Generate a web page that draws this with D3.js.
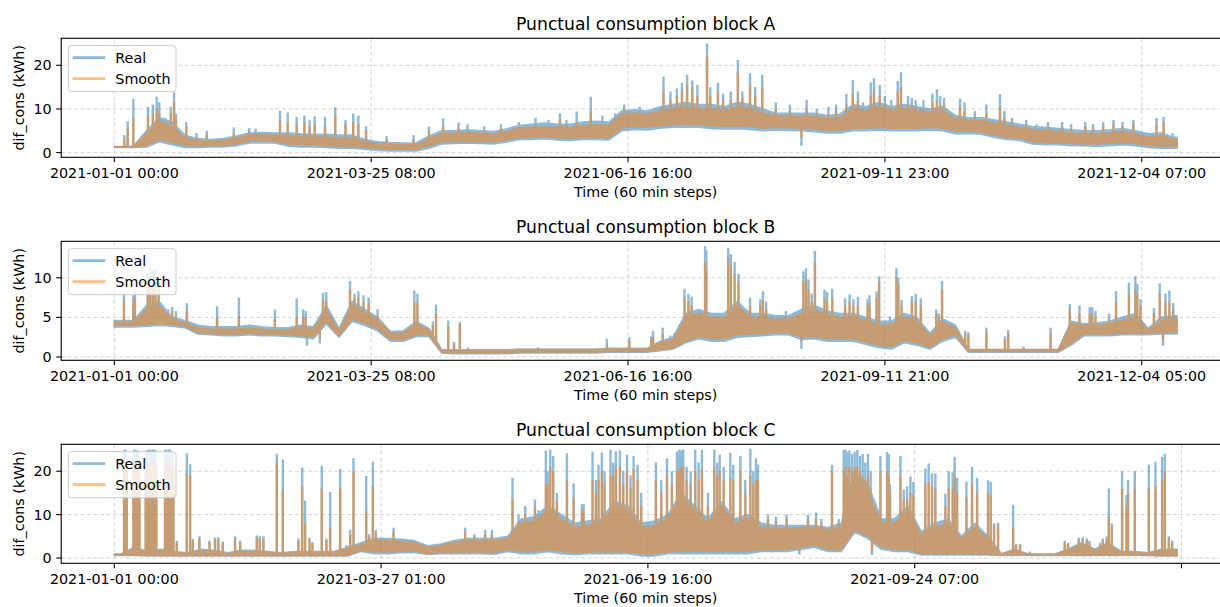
<!DOCTYPE html>
<html>
<head>
<meta charset="utf-8">
<script src="https://cdn.jsdelivr.net/npm/d3@7"></script>
<style>
  body { margin: 0; background: #fff; }
  text { font-family: "DejaVu Sans", sans-serif; fill: #000; }
</style>
</head>
<body>
<svg id="chart" width="1220" height="607"></svg>
<script>
// hourly series, summarised per 100 hour bucket (typical band) + the peaks
const bucketHours = 100;

// ---------------- block A ----------------
const aLastHour = 8275;
const aTickLabels = ["2021-01-01 00:00", "2021-03-25 08:00", "2021-06-16 16:00", "2021-09-11 23:00", "2021-12-04 07:00"];
const aYTicks = [0, 10, 20];
const aRealLo = [1.2,1.2,1.3,2.5,1.8,1.2,1.2,1.3,1.3,1.6, 2.2,2.3,2.2,1.5,1.3,1.3,1.2,1.0,1.0,0.8,
  0.5,0.4,0.4,0.4,1.0,2.0,2.1,2.2,2.1,2.0, 2.4,3.0,3.0,3.2,2.9,2.8,3.0,3.0,2.9,5.0,
  5.3,5.2,5.6,5.8,5.9,5.8,5.5,5.4,5.5,5.3, 5.0,5.2,5.1,5.0,4.8,4.5,4.5,5.0,5.0,5.2,
  5.0,5.0,5.0,5.2,5.0,4.3,4.4,4.2,3.5,3.0, 2.8,2.0,1.8,1.8,1.6,1.6,1.5,1.6,1.8,1.6, 1.2,1.0,1.0];
const aRealHi = [1.4,1.5,5.0,8.0,7.0,4.0,3.2,3.0,3.2,3.8, 4.5,4.6,4.5,4.5,4.3,4.2,4.2,4.0,4.0,3.0,
  2.5,2.3,2.2,2.2,3.8,5.0,5.0,5.2,5.0,4.8, 5.4,6.2,6.5,6.8,6.5,6.5,7.0,7.2,7.0,9.5,
  9.8,9.5,10.5,11.0,11.5,11.0,11.0,10.5,11.5,11.0, 10.0,9.0,9.0,9.0,9.0,8.5,8.8,11.0,10.5,11.5,
  10.5,11.0,10.5,10.0,10.5,8.5,8.0,8.0,7.5,7.0, 6.5,6.0,5.8,5.5,5.2,5.0,5.0,5.2,5.5,5.0, 4.3,4.5,3.5];
const aSmoothLo = [1.25,1.25,1.6,3.0,2.4,1.7,1.6,1.7,1.7,2.0, 2.7,2.8,2.6,2.0,1.8,1.8,1.6,1.5,1.4,1.2,
  0.9,0.8,0.8,0.8,1.5,2.5,2.6,2.7,2.6,2.5, 2.9,3.5,3.5,3.7,3.4,3.3,3.5,3.5,3.4,5.6,
  6.0,5.8,6.2,6.4,6.5,6.4,6.2,6.0,6.1,6.0, 5.6,5.8,5.7,5.6,5.4,5.1,5.1,5.6,5.6,5.8,
  5.6,5.6,5.6,5.8,5.6,4.9,5.0,4.8,4.0,3.5, 3.3,2.5,2.3,2.2,2.1,2.0,2.0,2.1,2.3,2.1, 1.7,1.5,1.4];
const aSmoothHi = [1.35,1.4,4.4,7.0,6.0,3.4,2.8,2.6,2.8,3.3, 4.0,4.1,4.0,3.8,3.6,3.5,3.5,3.3,3.3,2.5,
  2.0,1.9,1.8,1.8,3.2,4.4,4.4,4.6,4.4,4.2, 4.8,5.6,5.8,6.0,5.8,5.8,6.2,6.4,6.2,8.8,
  9.0,8.8,9.6,10.0,10.5,10.0,10.0,9.6,10.5,10.0, 9.0,8.4,8.4,8.3,8.3,7.8,8.0,10.0,9.6,10.5,
  9.6,10.0,9.6,9.2,9.6,7.8,7.3,7.3,6.8,6.3, 5.8,5.2,5.0,4.8,4.5,4.3,4.3,4.5,4.8,4.3, 3.6,3.8,3.0];
// [hour, real, smooth]
const aSpikes = [[78,4.0,3.0],[104,7.2,5.5],[148,12.3,8.0],[262,10.5,8.5],[300,11.0,9.0],[330,12.8,10.0],[350,11.5,9.0],
  [395,8.0,7.0],[440,10.5,9.0],[465,13.8,11.8],[480,9.0,7.5],[560,7.0,6.0],[640,4.5,3.5],[720,5.0,4.0],[930,5.8,4.5],
  [1050,5.6,4.8],[1100,5.5,4.5],[1290,9.6,7.5],[1350,9.2,7.0],[1420,8.2,6.5],[1480,8.5,7.0],[1520,7.5,6.0],[1560,8.3,6.5],
  [1640,8.2,6.0],[1720,10.4,8.5],[1800,7.5,6.5],[1860,9.0,7.0],[1900,8.5,6.5],[1960,6.0,5.0],[2120,3.8,3.0],[2330,4.0,3.0],
  [2450,6.0,5.0],[2560,7.9,6.0],[2680,6.9,5.5],[2750,6.5,5.0],[2880,6.0,5.0],[3010,6.5,5.5],[3150,7.0,6.0],[3280,8.0,6.5],
  [3380,7.5,6.0],[3470,9.0,7.5],[3520,7.5,6.5],[3600,9.4,7.0],[3710,12.8,9.5],[3800,8.5,7.0],[3900,9.0,8.0],[3970,11.0,10.0],
  [4090,10.5,9.5],[4160,9.5,8.5],[4276,17.4,14.0],[4330,14.0,12.0],[4380,14.7,13.0],[4420,16.0,14.0],[4460,17.8,15.5],
  [4500,16.5,15.0],[4540,15.5,13.0],[4615,25.0,22.0],[4640,15.0,13.0],[4700,16.0,14.0],[4740,13.5,12.0],[4800,14.0,12.0],
  [4855,21.2,18.5],[4890,14.0,12.5],[4950,18.2,15.5],[4990,15.0,13.0],[5045,17.9,15.0],[5150,11.5,10.0],[5260,11.0,9.5],
  [5350,1.6,3.5],[5390,12.1,10.0],[5470,10.0,9.0],[5560,10.5,9.0],[5620,11.0,9.5],[5700,13.5,11.0],[5750,16.6,13.5],
  [5790,14.0,12.0],[5830,11.5,10.0],[5890,16.1,13.0],[5915,17.0,14.0],[5960,15.5,13.0],[6000,13.0,11.0],[6050,12.0,10.5],
  [6100,16.4,14.0],[6125,18.4,15.0],[6180,13.0,11.0],[6210,12.5,11.0],[6240,12.0,10.5],[6300,12.0,10.0],[6370,13.5,11.5],
  [6405,14.5,12.0],[6430,13.0,11.0],[6460,12.5,11.0],[6585,12.4,10.5],[6620,11.5,9.5],[6700,9.5,8.5],[6790,11.0,9.0],
  [6896,13.4,10.5],[6930,9.5,8.0],[6990,8.0,7.0],[7100,7.5,6.5],[7180,6.5,5.5],[7270,7.0,6.0],[7380,7.0,6.0],[7450,6.5,5.5],
  [7560,7.0,6.0],[7620,6.5,5.5],[7700,7.0,6.0],[7780,7.5,6.5],[7850,7.0,6.0],[7935,7.5,6.5],[8115,8.0,6.5],[8170,8.2,7.0],
  [8240,4.5,3.5]];

// ---------------- block B ----------------
const bLastHour = 8275;
const bTickLabels = ["2021-01-01 00:00", "2021-03-25 08:00", "2021-06-16 16:00", "2021-09-11 21:00", "2021-12-04 05:00"];
const bYTicks = [0, 5, 10];
const bRealLo = [3.8,3.8,3.9,4.0,3.9,3.7,2.9,2.8,2.7,2.7, 2.8,2.7,2.7,2.6,2.5,2.3,4.2,2.5,4.5,4.0,
  3.3,2.0,2.0,2.6,2.6,0.5,0.4,0.4,0.4,0.4, 0.4,0.5,0.5,0.5,0.5,0.5,0.5,0.5,0.6,0.6,
  0.6,0.6,0.8,1.0,1.8,2.3,2.0,2.0,2.5,2.6, 2.7,2.8,2.8,2.2,2.3,2.0,2.0,2.0,1.6,1.2,
  1.0,1.8,1.5,1.0,2.0,2.5,0.6,0.6,0.6,0.6, 0.6,0.6,0.6,0.6,1.5,2.7,2.7,2.7,2.8,2.8, 2.8,2.9,2.9];
const bRealHi = [4.6,4.6,6.5,7.0,5.0,4.6,4.0,3.8,3.8,3.8, 4.0,3.8,3.7,3.7,4.0,3.8,6.5,3.6,7.0,6.0,
  5.0,3.2,3.3,4.5,3.6,0.9,0.9,0.9,0.9,0.9, 0.9,1.0,1.0,1.0,1.0,1.0,1.0,1.0,1.1,1.1,
  1.1,1.1,2.0,2.5,5.5,6.0,5.5,5.5,7.0,5.5, 5.5,5.2,5.2,6.0,6.5,5.8,5.5,5.5,5.0,4.5,
  4.5,5.5,5.0,3.0,4.8,4.0,0.95,0.95,0.95,0.95, 0.95,0.95,0.95,0.95,4.5,4.2,4.3,4.5,5.0,5.5, 3.6,5.0,5.2];
const bSmoothLo = [4.0,4.0,4.1,4.2,4.1,3.9,3.1,3.0,2.9,2.9, 3.0,2.9,2.9,2.8,2.7,2.6,4.5,2.7,4.8,4.3,
  3.6,2.2,2.2,2.8,2.8,0.6,0.5,0.5,0.5,0.5, 0.5,0.6,0.6,0.6,0.6,0.6,0.6,0.6,0.7,0.7,
  0.7,0.7,0.9,1.1,2.0,2.6,2.3,2.3,2.8,2.9, 3.0,3.1,3.1,2.5,2.6,2.3,2.3,2.3,1.9,1.5,
  1.3,2.1,1.8,1.2,2.3,2.8,0.7,0.7,0.7,0.7, 0.7,0.7,0.7,0.7,1.7,2.9,2.9,2.9,3.0,3.0, 3.0,3.1,3.1];
const bSmoothHi = [4.4,4.4,6.0,6.5,4.7,4.3,3.7,3.5,3.5,3.5, 3.7,3.5,3.4,3.4,3.7,3.5,6.0,3.3,6.5,5.6,
  4.7,3.0,3.0,4.2,3.4,0.8,0.8,0.8,0.8,0.8, 0.8,0.9,0.9,0.9,0.9,0.9,0.9,0.9,1.0,1.0,
  1.0,1.0,1.8,2.2,5.0,5.5,5.0,5.0,6.5,5.0, 5.0,4.8,4.8,5.5,6.0,5.3,5.0,5.0,4.6,4.0,
  4.0,5.0,4.5,2.7,4.4,3.7,0.9,0.9,0.9,0.9, 0.9,0.9,0.9,0.9,4.2,4.0,4.0,4.2,4.6,5.0, 3.4,4.6,4.8];
const bSpikes = [[75,8.0,7.2],[148,7.8,7.0],[160,8.3,7.5],[260,10.5,9.5],[280,11.3,10.0],[300,11.0,9.8],[320,11.2,10.0],
  [345,10.0,9.0],[420,6.0,5.5],[450,6.3,5.8],[480,5.8,5.2],[565,6.8,5.8],[800,6.4,5.0],[970,7.5,5.2],[1250,6.0,4.8],
  [1420,7.4,5.0],[1470,6.0,5.2],[1490,5.8,5.0],[1500,1.4,2.4],[1600,1.7,2.5],[1625,8.1,7.2],[1650,8.2,7.0],[1835,9.6,8.5],
  [1870,8.0,7.5],[1900,8.3,7.5],[1940,7.8,7.0],[1980,7.5,6.8],[2050,6.0,5.2],[2336,8.4,7.0],[2360,8.0,6.8],[2480,4.5,4.0],
  [2505,6.6,5.5],[2600,4.6,3.8],[2645,1.9,1.6],[2690,4.4,4.2],[2755,1.2,1.0],[3300,1.2,1.1],[3835,2.3,1.6],[4010,2.5,2.0],
  [4180,2.6,2.2],[4195,3.3,2.5],[4270,3.7,3.0],[4330,2.7,2.2],[4360,3.0,2.5],[4440,8.6,7.5],[4470,8.0,7.0],[4495,7.6,6.5],
  [4600,14.0,12.0],[4610,13.5,11.0],[4650,5.3,4.6],[4700,5.0,4.5],[4780,13.8,12.5],[4800,13.0,11.5],[4830,12.0,10.5],
  [4860,10.5,9.5],[4950,7.5,6.5],[5030,7.3,6.5],[5050,8.3,7.2],[5075,7.0,6.0],[5230,5.8,5.2],[5350,1.0,2.0],[5365,10.8,9.5],
  [5385,11.2,9.8],[5405,9.8,8.5],[5430,8.0,7.0],[5455,13.4,12.0],[5530,8.5,7.5],[5550,8.2,7.0],[5590,8.6,7.5],[5690,7.4,6.5],
  [5725,7.9,7.0],[5755,7.3,6.5],[5790,7.6,6.5],[5865,7.3,6.5],[5880,7.8,6.8],[5935,8.3,7.5],[5955,10.2,9.5],[6040,5.1,4.5],
  [6090,11.2,10.0],[6105,10.0,9.0],[6130,7.2,6.5],[6210,7.7,7.0],[6240,8.0,7.0],[6280,7.4,6.5],[6400,6.0,5.5],[6420,5.5,5.0],
  [6445,9.6,8.5],[6625,3.3,3.0],[6650,3.1,2.8],[6790,3.7,3.2],[6935,2.6,2.2],[6960,3.4,3.0],[7080,1.3,1.1],[7290,3.7,3.0],
  [7440,6.7,6.0],[7515,6.5,5.5],[7595,6.3,5.5],[7615,6.3,5.5],[7640,5.8,5.0],[7745,5.5,4.8],[7800,8.3,7.0],[7900,9.4,8.0],
  [7950,10.2,8.5],[7965,9.2,8.0],[7990,7.3,6.5],[8095,6.2,5.5],[8140,9.3,8.0],[8165,1.4,2.2],[8185,8.0,7.0],[8215,8.4,7.0],
  [8245,6.8,6.0]];

// ---------------- block C ----------------
const cLastHour = 7967;
const cTickLabels = ["2021-01-01 00:00", "2021-03-27 01:00", "2021-06-19 16:00", "2021-09-24 07:00", ""];
const cYTicks = [0, 10, 20];
const cRealLo = [0.6,0.6,0.5,0.5,0.5,0.5,0.5,0.5,0.5,0.5, 0.5,0.5,0.5,0.5,0.5,0.5,0.5,0.5,1.5,1.0,
  1.0,1.2,1.3,0.8,1.0,1.0,1.0,1.0,0.9,1.5, 1.0,1.0,1.5,1.0,0.8,1.0,1.0,1.0,1.0,0.5,
  0.5,1.0,1.0,1.0,1.0,1.0,1.0,1.0,1.5,1.5, 1.5,2.0,2.5,1.5,1.5,6.0,4.5,2.0,1.5,1.5,
  0.7,0.7,0.7,0.7,0.7,0.7,0.6,0.6,0.6,0.6, 0.6,0.6,0.6,0.6,0.6,0.6,0.6,0.6,0.5,0.5];
const cRealHi = [0.9,2.5,1.5,2.0,1.5,1.2,2.0,1.8,1.2,1.8, 1.8,1.5,1.2,1.5,1.5,1.5,1.5,2.5,3.5,4.5,
  4.5,4.3,4.0,2.8,3.2,4.0,4.5,4.5,4.5,5.0, 9.0,9.5,12.0,10.0,8.0,8.5,9.0,13.0,12.0,8.0,
  8.5,10.0,15.0,12.0,9.0,13.0,9.0,10.0,8.0,7.5, 7.5,7.5,7.5,7.0,8.0,20.0,17.0,9.0,9.0,12.0,
  6.0,8.0,9.0,5.0,8.0,5.0,1.0,2.0,0.9,0.9, 0.9,2.0,3.5,2.0,3.5,1.5,1.5,1.2,2.0,2.0];
const cSmoothLo = [0.7,0.7,0.6,0.6,0.6,0.6,0.6,0.6,0.6,0.6, 0.6,0.6,0.6,0.6,0.6,0.6,0.6,0.6,1.8,1.4,
  1.4,1.5,1.6,1.0,1.3,1.3,1.3,1.3,1.2,2.0, 1.5,1.5,2.0,1.5,1.2,1.4,1.4,1.4,1.4,1.0,
  1.0,1.4,1.5,1.5,1.5,1.5,1.5,1.5,2.0,2.0, 2.0,2.5,3.0,2.0,2.0,6.5,5.0,2.5,2.0,2.0,
  1.0,1.0,1.0,1.0,1.0,0.9,0.7,0.7,0.7,0.7, 0.7,0.7,0.7,0.7,0.7,0.7,0.7,0.7,0.6,0.6];
const cSmoothHi = [0.85,2.2,1.3,1.8,1.3,1.0,1.8,1.5,1.0,1.5, 1.5,1.3,1.0,1.3,1.3,1.3,1.3,2.2,3.0,4.0,
  4.0,3.8,3.6,2.5,2.8,3.6,4.0,4.0,4.0,4.5, 8.0,8.5,11.0,9.0,7.0,7.5,8.0,12.0,11.0,7.0,
  7.5,9.0,14.0,11.0,8.0,12.0,8.0,9.0,7.0,6.8, 6.8,7.0,7.0,6.5,7.0,18.0,15.0,8.0,8.0,11.0,
  5.3,7.0,8.0,4.5,7.0,4.5,0.9,1.8,0.8,0.8, 0.8,1.8,3.2,1.8,3.2,1.3,1.3,1.0,1.8,1.8];
const cSpikes = [[73,24.8,22],[78,24.5,21],[83,25.0,22],[88,24.0,21],[93,22,18],
  [143,24.5,21],[150,25.0,22],[158,24.8,22],[165,24.0,21],[172,24.8,22],[180,24.5,20],[188,20.0,17],
  [235,23,18],[243,24.8,22],[251,24.5,21],[259,25.0,22],[267,22.0,18],[275,24.9,22],[283,24.0,21],[291,25.0,22],
  [299,24.5,21],[307,24.9,22],[315,22.0,19],
  [380,24.9,22],[388,25.0,22],[396,24.8,21],[404,24.5,22],[412,25.0,22],[420,24.9,21],[428,24.0,21],[436,24.5,20],[443,20.0,17],
  [468,4.0,3.5],[543,24.1,19.5],[568,21.6,19.0],[588,4.4,4.0],[638,5.0,4.5],[713,4.0,3.6],[755,4.7,4.2],[780,4.8,4.2],
  [813,3.8,3.5],[905,5.0,4.3],[943,4.0,3.6],[1068,5.2,4.6],[1090,5.0,4.5],[1118,5.0,4.4],[1218,24.0,22.0],[1263,22.7,15.5],
  [1380,4.5,4.0],[1408,20.8,16.5],[1430,13.2,8.0],[1463,4.7,4.2],[1485,3.7,3.2],[1555,21.3,16.0],[1590,4.5,4.0],
  [1618,15.2,7.0],[1693,20.5,16.2],[1740,3.0,2.5],[1768,6.5,5.5],[1793,23.0,20.0],[1888,18.9,10.8],[1910,5.5,5.0],
  [1938,22.2,16.5],[1960,6.5,5.8],[2093,7.0,6.0],[2630,7.0,6.0],[2700,5.5,5.0],[2780,6.5,5.5],[2830,6.5,5.5],
  [2985,18.5,13.5],[3030,10.0,8.5],[3080,12.0,10.0],[3153,13.5,11.5],[3180,11.0,9.5],[3235,24.8,17.0],[3248,20.0,17.0],
  [3268,25.0,21.0],[3290,23.5,20.0],[3318,15.0,13.0],[3393,24.1,18.0],[3443,17.2,14.0],[3505,12.4,11.0],[3518,12.5,11.0],
  [3585,24.5,18.0],[3610,18.0,15.0],[3630,21.5,18.0],[3655,24.3,20.0],[3675,20.0,17.0],[3720,25.0,19.0],[3740,22.0,19.0],
  [3760,24.6,21.0],[3790,24.8,21.0],[3815,20.0,17.0],[3843,23.8,20.0],[3870,19.0,16.0],[3893,23.5,20.5],[3923,21.5,18.0],
  [3950,15.0,12.0],[4060,22.0,18.0],[4100,18.0,15.0],[4143,23.0,19.0],[4180,20.0,17.0],[4218,24.5,20.0],[4235,25.0,20.0],
  [4250,24.8,21.0],[4265,25.0,21.0],[4290,21.0,18.0],[4320,20.0,17.0],[4355,25.0,20.0],[4380,22.0,18.0],[4405,24.9,20.5],
  [4450,15.0,12.0],[4498,25.0,21.0],[4520,22.0,19.0],[4538,23.8,20.0],[4568,21.0,18.0],[4618,24.2,18.5],[4640,21.5,18.0],
  [4693,23.5,20.0],[4730,18.0,15.0],[4768,25.2,19.0],[4790,20.0,17.0],[4810,23.0,18.0],[4825,21.5,18.0],[4900,10.0,9.0],
  [4960,9.5,8.5],[5040,10.0,9.0],[5135,0.8,1.5],[5200,10.0,9.0],[5260,10.5,9.0],[5300,9.0,8.0],[5380,21.5,20.0],
  [5430,9.0,8.0],[5468,24.9,20.0],[5480,25.0,21.0],[5495,24.5,19.0],[5510,24.8,21.0],[5530,24.0,20.0],[5550,24.5,21.0],
  [5570,24.9,21.0],[5590,23.5,20.0],[5610,24.0,19.0],[5630,22.0,18.0],[5650,24.0,19.0],[5670,20.0,16.0],[5680,0.7,1.5],
  [5743,23.5,20.0],[5793,24.4,20.0],[5805,24.0,19.0],[5815,17.0,15.0],[5893,23.5,19.0],[5918,15.8,13.0],[5943,16.5,13.5],
  [5968,18.8,15.0],[5990,17.5,14.5],[6080,20.6,17.0],[6105,21.8,17.5],[6130,19.5,16.5],[6155,19.5,16.0],[6230,14.8,12.0],
  [6255,20.0,16.0],[6285,19.8,16.0],[6300,23.3,19.0],[6318,18.5,15.0],[6388,17.6,14.0],[6430,21.0,17.0],[6468,18.5,15.0],
  [6550,17.9,15.0],[6570,17.5,14.5],[6595,8.0,7.5],[6625,8.1,7.5],[6738,12.3,7.0],[6760,3.2,3.0],[6790,3.2,3.0],
  [6863,1.5,1.2],[7125,4.0,3.5],[7150,3.5,3.2],[7230,4.7,4.2],[7260,4.8,4.2],[7290,4.5,4.0],[7310,4.0,3.6],[7390,3.5,3.0],
  [7410,4.5,4.0],[7440,5.0,4.5],[7455,16.0,9.5],[7478,8.0,7.0],[7555,20.0,16.0],[7588,14.5,12.0],[7600,18.0,15.0],
  [7650,20.0,16.0],[7755,21.5,16.0],[7805,22.2,16.5],[7818,0.2,1.0],[7855,23.3,18.0],[7875,24.0,20.0],[7905,5.0,4.5],
  [7930,4.0,3.5]];

const tickHours = [0, 2000, 4000, 6000, 8000];
const legendNames = ["Real", "Smooth"];

const panels = [
  { title: "Punctual consumption block A", lastHour: aLastHour, yDomain: [-1.07, 26.18], yTicks: aYTicks, tickLabels: aTickLabels,
    realLo: aRealLo, realHi: aRealHi, smoothLo: aSmoothLo, smoothHi: aSmoothHi, spikes: aSpikes },
  { title: "Punctual consumption block B", lastHour: bLastHour, yDomain: [-0.42, 14.61], yTicks: bYTicks, tickLabels: bTickLabels,
    realLo: bRealLo, realHi: bRealHi, smoothLo: bSmoothLo, smoothHi: bSmoothHi, spikes: bSpikes },
  { title: "Punctual consumption block C", lastHour: cLastHour, yDomain: [-1.22, 26.2], yTicks: cYTicks, tickLabels: cTickLabels,
    realLo: cRealLo, realHi: cRealHi, smoothLo: cSmoothLo, smoothHi: cSmoothHi, spikes: cSpikes }
];

const blue = "#1f77b4", orange = "#ff7f0e";
const axLeft = 61.2, axRight = 1230.2; // right part of the frame falls outside the picture
const axHeight = 119;
const panelTops = [38.3, 241.3, 444.3];
const fontTick = "14.3px";

const svg = d3.select("#chart");

function bandPoints(lo, hi, lastHour) {
    var pts = [{ h: 0, lo: lo[0], hi: hi[0] }];
    lo.forEach(function (v, i) {
        pts.push({ h: Math.min(i * bucketHours + bucketHours / 2, lastHour), lo: v, hi: hi[i] });
    });
    pts.push({ h: lastHour, lo: lo[lo.length - 1], hi: hi[hi.length - 1] });
    return pts;
}

function drawSeries(g, x, y, lo, hi, spikes, which, color, lastHour) {
    var pts = bandPoints(lo, hi, lastHour);
    var mid = d3.scaleLinear()
        .domain(pts.map(function (d) { return d.h; }))
        .range(pts.map(function (d) { return (d.lo + d.hi) / 2; }));

    // one group with alpha so overlapping parts of the same series do not darken
    var s = g.append("g").attr("opacity", 0.5);

    s.append("path")
        .datum(pts)
        .attr("fill", color)
        .attr("stroke", color)
        .attr("stroke-width", 1.6)
        .attr("stroke-linejoin", "round")
        .attr("d", d3.area()
            .x(function (d) { return x(d.h); })
            .y0(function (d) { return y(d.lo); })
            .y1(function (d) { return y(d.hi); }));

    s.selectAll("line.spike")
        .data(spikes)
        .enter()
        .append("line")
        .attr("class", "spike")
        .attr("x1", function (d) { return x(d[0]); })
        .attr("x2", function (d) { return x(d[0]); })
        .attr("y1", function (d) { return y(mid(d[0])); })
        .attr("y2", function (d) { return y(d[which]); })
        .attr("stroke", color)
        .attr("stroke-width", 2.4)
        .attr("stroke-linecap", "butt");
}

function drawPanel(p, idx) {
    var top = panelTops[idx];
    var bottom = top + axHeight;
    var g = svg.append("g");

    var x = d3.scaleLinear()
        .domain([-0.05 * p.lastHour, 1.05 * p.lastHour])
        .range([axLeft, axRight]);
    var y = d3.scaleLinear()
        .domain(p.yDomain)
        .range([bottom, top]);

    var clipId = "clip" + idx;
    svg.append("clipPath").attr("id", clipId)
        .append("rect")
        .attr("x", axLeft).attr("y", top)
        .attr("width", axRight - axLeft).attr("height", axHeight);

    // grid
    var grid = g.append("g")
        .attr("stroke", "#b0b0b0")
        .attr("stroke-opacity", 0.6)
        .attr("stroke-width", 0.9)
        .attr("stroke-dasharray", "4,2.5");
    grid.selectAll("line.gx")
        .data(tickHours)
        .enter()
        .append("line")
        .attr("x1", function (d) { return x(d); })
        .attr("x2", function (d) { return x(d); })
        .attr("y1", top)
        .attr("y2", bottom);
    grid.selectAll("line.gy")
        .data(p.yTicks)
        .enter()
        .append("line")
        .attr("x1", axLeft)
        .attr("x2", axRight)
        .attr("y1", function (d) { return y(d); })
        .attr("y2", function (d) { return y(d); });

    var plot = g.append("g").attr("clip-path", "url(#" + clipId + ")");
    drawSeries(plot, x, y, p.realLo, p.realHi, p.spikes, 1, blue, p.lastHour);
    drawSeries(plot, x, y, p.smoothLo, p.smoothHi, p.spikes, 2, orange, p.lastHour);

    // frame
    g.append("rect")
        .attr("x", axLeft).attr("y", top)
        .attr("width", axRight - axLeft).attr("height", axHeight)
        .attr("fill", "none")
        .attr("stroke", "#000")
        .attr("stroke-width", 1.1);

    // x ticks
    var xt = g.selectAll("g.xtick")
        .data(tickHours)
        .enter()
        .append("g")
        .attr("class", "xtick")
        .attr("transform", function (d) { return "translate(" + x(d) + "," + bottom + ")"; });
    xt.append("line")
        .attr("y2", 5)
        .attr("stroke", "#000")
        .attr("stroke-width", 1.1);
    xt.append("text")
        .text(function (d, i) { return p.tickLabels[i]; })
        .attr("y", 21)
        .attr("text-anchor", "middle")
        .style("font-size", fontTick);

    // y ticks
    var yt = g.selectAll("g.ytick")
        .data(p.yTicks)
        .enter()
        .append("g")
        .attr("class", "ytick")
        .attr("transform", function (d) { return "translate(" + axLeft + "," + y(d) + ")"; });
    yt.append("line")
        .attr("x2", -5)
        .attr("stroke", "#000")
        .attr("stroke-width", 1.1);
    yt.append("text")
        .text(function (d) { return d; })
        .attr("x", -9.5)
        .attr("dy", "0.35em")
        .attr("text-anchor", "end")
        .style("font-size", fontTick);

    // titles
    g.append("text")
        .text(p.title)
        .attr("x", (axLeft + axRight) / 2)
        .attr("y", top - 8.6)
        .attr("text-anchor", "middle")
        .style("font-size", "17.2px");
    g.append("text")
        .text("Time (60 min steps)")
        .attr("x", (axLeft + axRight) / 2)
        .attr("y", bottom + 40)
        .attr("text-anchor", "middle")
        .style("font-size", fontTick);
    g.append("text")
        .text("dif_cons (kWh)")
        .attr("transform", "translate(24," + (top + axHeight / 2) + ") rotate(-90)")
        .attr("text-anchor", "middle")
        .style("font-size", fontTick);

    // legend
    var lg = g.append("g").attr("transform", "translate(" + (axLeft + 7.1) + "," + (top + 7.4) + ")");
    lg.append("rect")
        .attr("width", 107.7)
        .attr("height", 46)
        .attr("rx", 3)
        .attr("fill", "#fff")
        .attr("fill-opacity", 0.8)
        .attr("stroke", "#cccccc")
        .attr("stroke-width", 1);
    var item = lg.selectAll("g.item")
        .data(legendNames)
        .enter()
        .append("g")
        .attr("class", "item")
        .attr("transform", function (d, i) { return "translate(0," + (12 + 21 * i) + ")"; });
    item.append("line")
        .attr("x1", 4.4)
        .attr("x2", 37)
        .attr("stroke", function (d, i) { return i == 0 ? blue : orange; })
        .attr("stroke-opacity", 0.5)
        .attr("stroke-width", 2.8);
    item.append("text")
        .text(function (d) { return d; })
        .attr("x", 47)
        .attr("dy", "0.35em")
        .style("font-size", fontTick);
}

panels.forEach(drawPanel);
</script>
</body>
</html>
